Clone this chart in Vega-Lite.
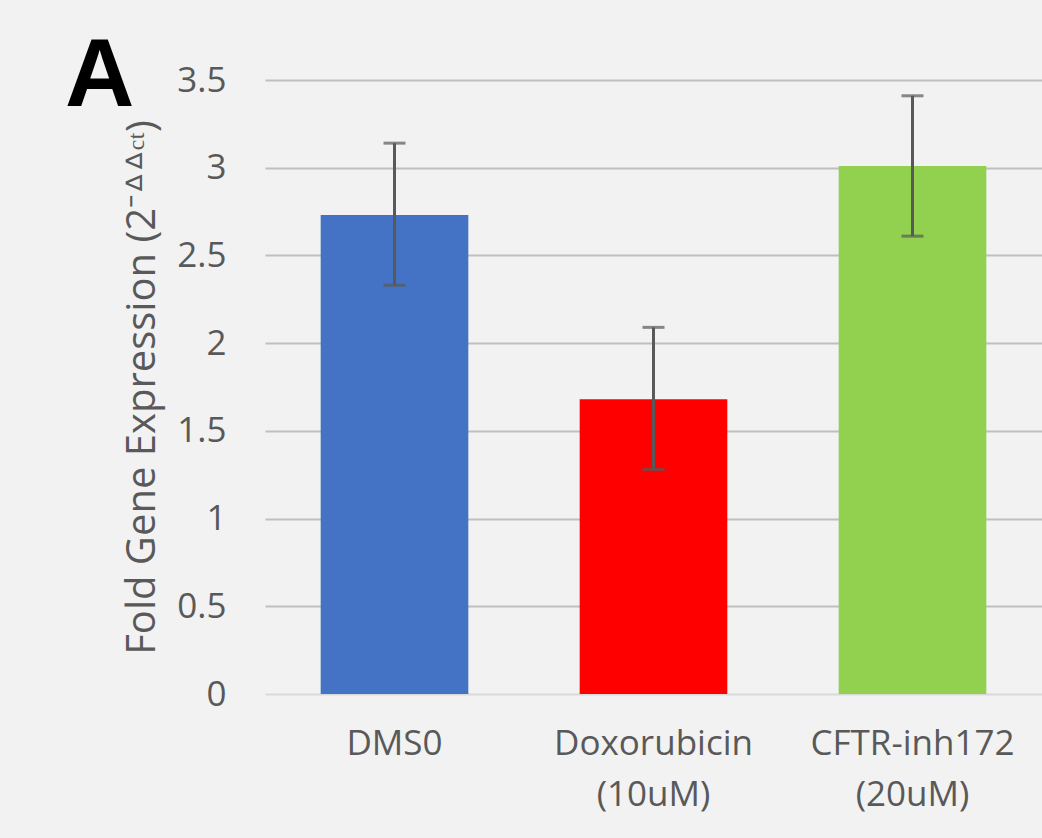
{
  "$schema": "https://vega.github.io/schema/vega-lite/v6.json",
  "autosize": {"type": "none"},
  "width": 777,
  "height": 614,
  "padding": {"left": 265, "top": 80, "right": 0, "bottom": 144},
  "background": "#f2f2f2",
  "title": {
    "text": "A",
    "anchor": "start",
    "frame": "group",
    "orient": "top",
    "offset": 0,
    "dx": -200,
    "dy": 139,
    "baseline": "alphabetic",
    "font": "Liberation Sans",
    "fontSize": 96,
    "fontWeight": "bold",
    "color": "#000000"
  },
  "data": {
    "values": [
      {"cond": "DMS0", "mean": 2.73, "lo": 2.33, "hi": 3.14},
      {"cond": "Doxorubicin\n(10uM)", "mean": 1.68, "lo": 1.28, "hi": 2.09},
      {"cond": "CFTR-inh172\n(20uM)", "mean": 3.01, "lo": 2.61, "hi": 3.41}
    ]
  },
  "encoding": {
    "x": {
      "field": "cond",
      "type": "nominal",
      "sort": null,
      "scale": {"paddingInner": 0.43, "paddingOuter": 0.215},
      "axis": {
        "title": null,
        "labelAngle": 0,
        "labelExpr": "split(datum.label, '\\n')",
        "labelFont": "Open Sans",
        "labelFontSize": 35,
        "labelColor": "#595959",
        "labelLineHeight": 51,
        "labelPadding": 32,
        "labelLimit": 400,
        "ticks": false,
        "tickSize": 0,
        "domain": false
      }
    }
  },
  "layer": [
    {
      "mark": {"type": "bar"},
      "encoding": {
        "y": {
          "field": "mean",
          "type": "quantitative",
          "scale": {"domain": [0, 3.5], "nice": false},
          "axis": {
            "values": [0, 0.5, 1, 1.5, 2, 2.5, 3, 3.5],
            "format": "~g",
            "title": "Fold Gene Expression (2⁻ᐞᐞᶜᵗ)",
            "titleFont": "Open Sans",
            "titleFontSize": 40,
            "titleFontWeight": "normal",
            "titleColor": "#595959",
            "titlePadding": 14,
            "titleLimit": 700,
            "labelFont": "Open Sans",
            "labelFontSize": 35,
            "labelColor": "#595959",
            "labelPadding": 39,
            "ticks": false,
            "tickSize": 0,
            "domain": false,
            "grid": true,
            "gridWidth": 2,
            "gridColor": {"condition": {"test": "datum.value === 0", "value": "#d9d9d9"}, "value": "#bfbfbf"}
          }
        },
        "color": {
          "field": "cond",
          "type": "nominal",
          "sort": null,
          "scale": {"range": ["#4472c4", "#ff0000", "#92d050"]},
          "legend": null
        }
      }
    },
    {
      "mark": {"type": "rule", "color": "#595959", "strokeWidth": 3},
      "encoding": {
        "y": {"field": "lo", "type": "quantitative"},
        "y2": {"field": "hi"}
      }
    },
    {
      "mark": {"type": "tick", "color": "#595959", "size": 22, "thickness": 3},
      "encoding": {"y": {"field": "lo", "type": "quantitative"}}
    },
    {
      "mark": {"type": "tick", "color": "#595959", "size": 22, "thickness": 3},
      "encoding": {"y": {"field": "hi", "type": "quantitative"}}
    }
  ],
  "config": {"view": {"stroke": null}}
}
